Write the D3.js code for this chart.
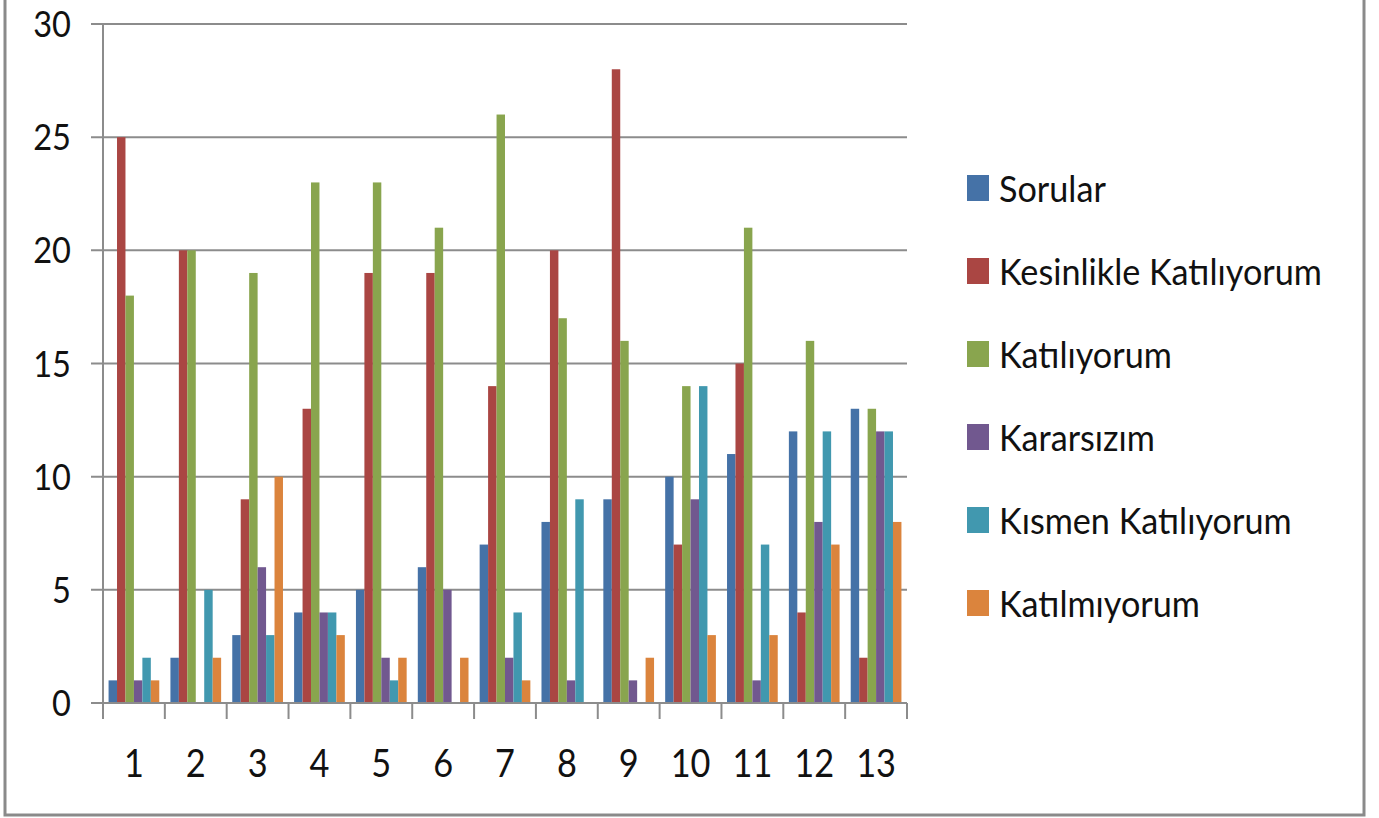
<!DOCTYPE html>
<html>
<head>
<meta charset="utf-8">
<script src="https://cdn.jsdelivr.net/npm/d3@7"></script>
<style>
  body { margin: 0; background: #fff; }
  text { font-family: Lato, "Noto Sans", sans-serif; fill: #111; }
</style>
</head>
<body>
<div id="chart"></div>
<script>
// Categories (question numbers)
var categories = ["1", "2", "3", "4", "5", "6", "7", "8", "9", "10", "11", "12", "13"];

// Series values
var sorular = [1, 2, 3, 4, 5, 6, 7, 8, 9, 10, 11, 12, 13];
var kesinlikleKatiliyorum = [25, 20, 9, 13, 19, 19, 14, 20, 28, 7, 15, 4, 2];
var katiliyorum = [18, 20, 19, 23, 23, 21, 26, 17, 16, 14, 21, 16, 13];
var kararsizim = [1, 0, 6, 4, 2, 5, 2, 1, 1, 9, 1, 8, 12];
var kismenKatiliyorum = [2, 5, 3, 4, 1, 0, 4, 9, 0, 14, 7, 12, 12];
var katilmiyorum = [1, 2, 10, 3, 2, 2, 1, 0, 2, 3, 3, 7, 8];

var seriesNames = ["Sorular", "Kesinlikle Katılıyorum", "Katılıyorum", "Kararsızım", "Kısmen Katılıyorum", "Katılmıyorum"];
var seriesValues = [sorular, kesinlikleKatiliyorum, katiliyorum, kararsizim, kismenKatiliyorum, katilmiyorum];
var colors = ["#4572A7", "#AA4643", "#89A54E", "#71588F", "#4198AF", "#DB843D"];
var yTicks = [0, 5, 10, 15, 20, 25, 30];

var width = 1379, height = 818;
var plotLeft = 103, plotRight = 907, plotTop = 24, plotBottom = 703;

var svg = d3.select("#chart").append("svg")
    .attr("width", width)
    .attr("height", height);

// outer frame
svg.append("rect")
    .attr("x", 5).attr("y", -10)
    .attr("width", 1359).attr("height", 825)
    .attr("fill", "none")
    .attr("stroke", "#8a8a8a")
    .attr("stroke-width", 3);

var x0 = d3.scaleBand().domain(categories).range([plotLeft, plotRight]).paddingInner(0.18).paddingOuter(0.09);
var x1 = d3.scaleBand().domain(seriesNames).range([0, x0.bandwidth()]);
var y = d3.scaleLinear().domain([0, 30]).range([plotBottom, plotTop]);
var xEdges = d3.scaleLinear().domain([0, categories.length]).range([plotLeft, plotRight]);

// gridlines + y ticks
svg.append("g")
    .selectAll("line")
    .data(yTicks)
    .enter().append("line")
    .attr("x1", plotLeft - 12).attr("x2", plotRight)
    .attr("y1", d => y(d)).attr("y2", d => y(d))
    .attr("stroke", "#8c8c8c")
    .attr("stroke-width", 2);

// y axis line
svg.append("line")
    .attr("x1", plotLeft).attr("x2", plotLeft)
    .attr("y1", plotTop).attr("y2", plotBottom)
    .attr("stroke", "#8c8c8c").attr("stroke-width", 2);

// x tick marks between categories
svg.append("g")
    .selectAll("line")
    .data(d3.range(categories.length + 1))
    .enter().append("line")
    .attr("x1", d => xEdges(d)).attr("x2", d => xEdges(d))
    .attr("y1", plotBottom).attr("y2", plotBottom + 16)
    .attr("stroke", "#8c8c8c").attr("stroke-width", 2);

// bars
var groups = svg.append("g")
    .selectAll("g")
    .data(categories)
    .enter().append("g")
    .attr("transform", d => "translate(" + x0(d) + ",0)");

groups.selectAll("rect")
    .data((c, i) => seriesNames.map((s, j) => ({ s: s, j: j, v: seriesValues[j][i] })))
    .enter().append("rect")
    .attr("x", d => x1(d.s))
    .attr("width", x1.bandwidth())
    .attr("y", d => y(d.v))
    .attr("height", d => y(0) - y(d.v))
    .attr("fill", d => colors[d.j]);

// x axis (bottom line drawn over bars)
svg.append("line")
    .attr("x1", plotLeft).attr("x2", plotRight)
    .attr("y1", plotBottom).attr("y2", plotBottom)
    .attr("stroke", "#8c8c8c").attr("stroke-width", 2);

// y labels
svg.append("g")
    .selectAll("text")
    .data(yTicks)
    .enter().append("text")
    .attr("transform", d => "translate(71," + (y(d) + 13) + ") scale(0.88,1)")
    .attr("text-anchor", "end")
    .style("font-size", "37px")
    .text(d => d);

// x labels
svg.append("g")
    .selectAll("text")
    .data(categories)
    .enter().append("text")
    .attr("transform", d => "translate(" + (x0(d) + x0.bandwidth() / 2) + ",777) scale(0.88,1)")
    .attr("text-anchor", "middle")
    .style("font-size", "39px")
    .text(d => d);

// legend
var legend = svg.append("g")
    .selectAll("g")
    .data(seriesNames)
    .enter().append("g")
    .attr("transform", (d, i) => "translate(967," + (175 + i * 83) + ")");

legend.append("rect")
    .attr("width", 22).attr("height", 26)
    .attr("fill", (d, i) => colors[i]);

legend.append("text")
    .attr("transform", "translate(32,27) scale(0.95,1)")
    .style("font-size", "36px")
    .text(d => d);
</script>
</body>
</html>
